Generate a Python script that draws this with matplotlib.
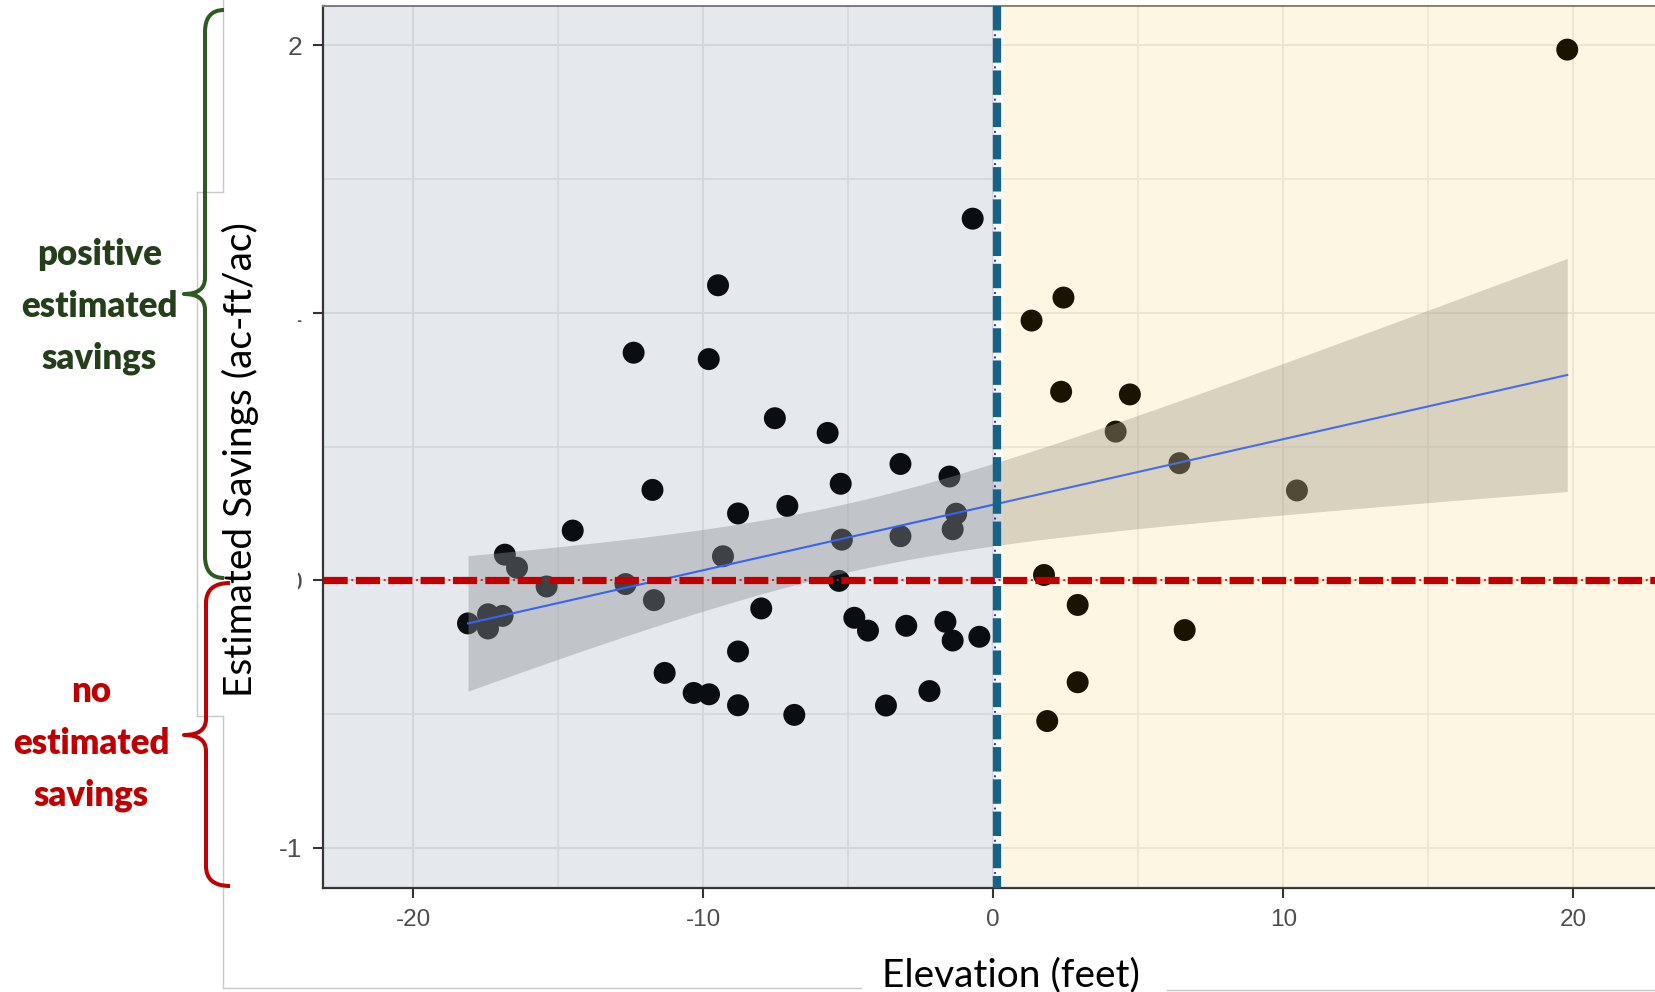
import numpy as np
import matplotlib
matplotlib.use("Agg")
import matplotlib.pyplot as plt
from matplotlib.patches import Rectangle, PathPatch
from matplotlib.path import Path
from matplotlib.lines import Line2D
from matplotlib import font_manager

# ---------------- data ----------------
elevation = [19.79, -0.71, -9.49, 2.42, 1.32, -12.40, -9.81, 2.34, 4.71, -7.53,
             -5.71, 4.22, -3.20, 6.42, -1.51, -11.75, -5.26, 10.47, -7.10, -8.80,
             -1.28, -14.50, -1.40, -5.22, -3.20, -16.84, -9.32, -16.42, 1.75, -12.68,
             -5.32, -15.40, -11.70, 2.91, -8.00, -4.79, -1.65, -18.11, -16.92, -17.42,
             -17.42, -4.32, -3.00, 6.60, -1.40, -0.48, -8.80, -11.33, 2.91, -10.33,
             -9.80, -2.20, -8.80, -3.70, -6.86, 1.86]
savings = [1.984, 1.352, 1.103, 1.057, 0.971, 0.851, 0.827, 0.705, 0.695, 0.606,
           0.551, 0.556, 0.435, 0.438, 0.388, 0.338, 0.361, 0.336, 0.278, 0.250,
           0.249, 0.186, 0.191, 0.152, 0.165, 0.096, 0.090, 0.047, 0.020, -0.014,
           -0.002, -0.023, -0.074, -0.092, -0.105, -0.140, -0.155, -0.161, -0.133, -0.127,
           -0.180, -0.188, -0.170, -0.186, -0.225, -0.211, -0.266, -0.346, -0.381, -0.421,
           -0.426, -0.414, -0.467, -0.468, -0.503, -0.526]
x_ticks = [-20, -10, 0, 10, 20]
y_ticks = [-1, 0, 1, 2]
x_label = "Elevation (feet)"
y_label = "Estimated Savings (ac-ft/ac)"
pos_lines = ["positive", "estimated", "savings"]
neg_lines = ["no", "estimated", "savings"]
threshold_x = 0.145
threshold_y = 0.0

# ---------------- fonts ----------------
def have(name):
    try:
        font_manager.findfont(font_manager.FontProperties(family=name), fallback_to_default=False)
        return True
    except Exception:
        return False

label_font = "Lato" if have("Lato") else "DejaVu Sans"
tick_font = "Liberation Sans" if have("Liberation Sans") else "DejaVu Sans"

plt.rcParams["lines.scale_dashes"] = False

W, H = 1656, 992
fig = plt.figure(figsize=(W / 100, H / 100), dpi=100)
fig.patch.set_facecolor("white")


def fx(px):
    return px / W


def fy(py):
    return 1 - py / H


ax = fig.add_axes([fx(322.7), fy(887.7), 1 - fx(322.7), fy(6) - fy(887.7)])
xmin, xmax = -23.12, 22.85
ymin, ymax = -1.149, 2.147
ax.set_xlim(xmin, xmax)
ax.set_ylim(ymin, ymax)
ax.set_facecolor("white")

# grid
ax.set_xticks(x_ticks)
ax.set_yticks(y_ticks)
ax.set_xticks([-15, -5, 5, 15], minor=True)
ax.set_yticks([-0.5, 0.5, 1.5], minor=True)
ax.set_axisbelow(True)
ax.grid(True, which="major", color="#ebebeb", linewidth=1.5)
ax.grid(True, which="minor", color="#ebebeb", linewidth=1.2)
ax.tick_params(which="minor", length=0)

# points
x = np.array(elevation)
y = np.array(savings)
ax.scatter(x, y, s=250, color="black", edgecolors="none", zorder=2)

# linear fit with 95% confidence band (like geom_smooth(method="lm"))
n = len(x)
b1, b0 = np.polyfit(x, y, 1)
xs = np.linspace(x.min(), x.max(), 120)
yhat = b0 + b1 * xs
resid = y - (b0 + b1 * x)
s = np.sqrt(np.sum(resid ** 2) / (n - 2))
sxx = np.sum((x - x.mean()) ** 2)
se = s * np.sqrt(1 / n + (xs - x.mean()) ** 2 / sxx)
tq = 2.005
ax.fill_between(xs, yhat - tq * se, yhat + tq * se, color="#999999", alpha=0.4,
                linewidth=0, zorder=3)
ax.plot(xs, yhat, color="#3366ff", linewidth=1.5, zorder=3.5)

# tinted region overlays
ax.add_patch(Rectangle((xmin, ymin), 0.0 - xmin, ymax - ymin,
                       facecolor=(71 / 255, 98 / 255, 134 / 255), alpha=0.14,
                       edgecolor="none", zorder=4))
ax.add_patch(Rectangle((0.345, ymin), xmax - 0.345, ymax - ymin,
                       facecolor=(236 / 255, 182 / 255, 0), alpha=0.11,
                       edgecolor="none", zorder=4))

# threshold lines
ax.plot([xmin, xmax], [threshold_y, threshold_y], color="#c00000", linewidth=5.2,
        linestyle=(0, (17.4, 5.9)), solid_capstyle="butt", dash_capstyle="butt", zorder=5)
ax.plot([xmin, xmax], [threshold_y, threshold_y], color="#e01010", linewidth=1.3,
        linestyle=(2.9, (1.4, 21.9)), dash_capstyle="butt", zorder=5.1)
ax.plot([threshold_x, threshold_x], [ymax, ymin], color="#176288", linewidth=6.0,
        linestyle=(0, (17.6, 5.6)), dash_capstyle="butt", zorder=5.2)
ax.plot([0.06, 0.06], [ymax, ymin], color="#0000ff", linewidth=1.2,
        linestyle=(2.9, (1.4, 21.8)), dash_capstyle="butt", zorder=5.3)

# spines / ticks
for side in ["left", "bottom"]:
    ax.spines[side].set_color("#333333")
    ax.spines[side].set_linewidth(1.6)
ax.spines["top"].set_color("#7f7f7f")
ax.spines["top"].set_linewidth(1.4)
ax.spines["right"].set_visible(False)
ax.tick_params(which="major", length=7.5, width=1.5, color="#333333", labelcolor="#4d4d4d")
ax.tick_params(axis="x", labelsize=17.5, pad=8)
ax.tick_params(axis="y", labelsize=19, pad=7)
ax.set_xticklabels([str(v) for v in x_ticks], family=tick_font)
ax.set_yticklabels([str(v) for v in y_ticks], family=tick_font)

# ---------------- composite decorations ----------------
# white label box covering part of the y tick labels
fig.patches.append(Rectangle((fx(197), fy(716)), fx(298) - fx(197), fy(192) - fy(716),
                             transform=fig.transFigure, facecolor="white",
                             edgecolor="none", zorder=1))

border = "#c8c8c8"
segs = [((223, 0), (223, 192)), ((197, 192), (223, 192)), ((197, 192), (197, 716)),
        ((197, 716), (223, 716)), ((223, 716), (223, 988)), ((223, 988), (861, 988)),
        ((1167, 990), (1656, 990))]
for (x0, y0), (x1, y1) in segs:
    fig.lines.append(Line2D([fx(x0), fx(x1)], [fy(y0), fy(y1)], transform=fig.transFigure,
                            color=border, linewidth=1.0, zorder=1.5))

# axis titles
fig.text(fx(252), fy(459.5), y_label, rotation=90, rotation_mode="anchor",
         ha="center", va="baseline", fontsize=28, family=label_font, color="black", zorder=3)
fig.text(fx(1011), fy(986), x_label, ha="center", va="baseline", fontsize=28,
         family=label_font, color="black", zorder=3)


# braces
def brace(xv, xend, xtip, ytop, ytip, ybot, r, r2, color):
    verts = [(xend, ytop), (xv, ytop), (xv, ytop + r),
             (xv, ytip - r2), (xv, ytip), (xtip, ytip),
             (xv, ytip), (xv, ytip + r2),
             (xv, ybot - r), (xv, ybot), (xend, ybot)]
    codes = [Path.MOVETO, Path.CURVE3, Path.CURVE3,
             Path.LINETO, Path.CURVE3, Path.CURVE3,
             Path.CURVE3, Path.CURVE3,
             Path.LINETO, Path.CURVE3, Path.CURVE3]
    verts = [(fx(a), fy(b)) for a, b in verts]
    fig.patches.append(PathPatch(Path(verts, codes), transform=fig.transFigure,
                                 facecolor="none", edgecolor=color, linewidth=2.9,
                                 capstyle="butt", joinstyle="round", zorder=4))


brace(205, 224, 184, 10, 294, 578, 22, 16, "#2d5a1e")
brace(206, 230, 184, 583, 735, 886, 20, 16, "#c00000")

# annotations
for txt, yb in zip(pos_lines, [265, 317, 368.5]):
    fig.text(fx(99.5), fy(yb), txt, ha="center", va="baseline", fontsize=25,
             fontweight="heavy", family=label_font, color="#243f1a", zorder=3)
for txt, yb in zip(neg_lines, [701.5, 754, 805]):
    fig.text(fx(91.3), fy(yb), txt, ha="center", va="baseline", fontsize=25,
             fontweight="heavy", family=label_font, color="#c00000", zorder=3)

fig.savefig("out.png", dpi=100, facecolor="white")
